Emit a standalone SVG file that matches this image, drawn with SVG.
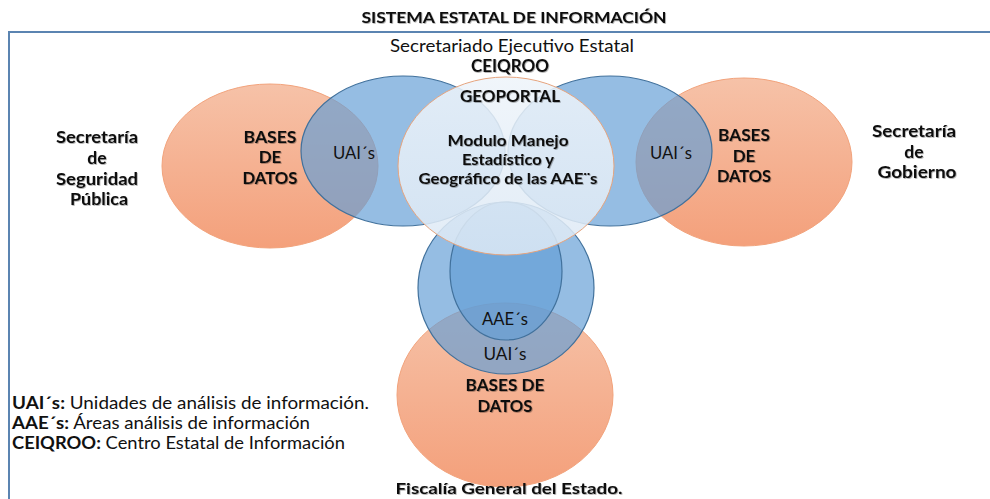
<svg xmlns="http://www.w3.org/2000/svg" width="990" height="499" viewBox="0 0 990 499">
<style>
text{font-family:Lato,"Open Sans","Liberation Sans",sans-serif;fill:#111;}
.b{font-weight:bold;}
.c{text-anchor:middle;}
.sh{filter:url(#shadow);}
.orange{fill:url(#og);stroke:#f2a37c;stroke-width:1;}
.blue{fill:#639ed6;fill-opacity:0.68;stroke:#41719c;stroke-width:1.2;}
.white{fill:url(#wg);fill-opacity:0.86;stroke:#e6a47e;stroke-width:1;}
</style>
<defs>
<linearGradient id="og" x1="0" y1="0" x2="0" y2="1">
<stop offset="0" stop-color="#f6c2a8"/>
<stop offset="1" stop-color="#f4a07b"/>
</linearGradient>
<linearGradient id="wg" x1="0" y1="0" x2="0" y2="1">
<stop offset="0" stop-color="#eef4fa"/>
<stop offset="1" stop-color="#dde9f5"/>
</linearGradient>
<filter id="shadow" x="-10%" y="-30%" width="120%" height="160%">
<feDropShadow dx="0.8" dy="0.8" stdDeviation="0.7" flood-color="#000" flood-opacity="0.35"/>
</filter>
</defs>
<rect width="990" height="499" fill="#fff"/>
<text class="b c sh" x="514" y="23" font-size="16" textLength="305" lengthAdjust="spacingAndGlyphs">SISTEMA ESTATAL DE INFORMACIÓN</text>
<path d="M9,499 V32 H990" fill="none" stroke="#5b84b1" stroke-width="2"/>
<text class="c" x="512" y="52" font-size="16.5" textLength="244" lengthAdjust="spacingAndGlyphs">Secretariado Ejecutivo Estatal</text>
<text class="b c sh" x="510" y="72" font-size="16.5" textLength="78" lengthAdjust="spacingAndGlyphs">CEIQROO</text>
<g id="ssp-label">
<text class="b c sh" x="97" y="143" font-size="17.5" textLength="82" lengthAdjust="spacingAndGlyphs">Secretaría</text>
<text class="b c sh" x="97" y="164" font-size="17.5">de</text>
<text class="b c sh" x="97" y="185" font-size="17.5" textLength="82" lengthAdjust="spacingAndGlyphs">Seguridad</text>
<text class="b c sh" x="99" y="205" font-size="17.5" textLength="58" lengthAdjust="spacingAndGlyphs">Pública</text>
</g>
<g id="sg-label">
<text class="b c sh" x="914" y="137" font-size="17.5" textLength="84" lengthAdjust="spacingAndGlyphs">Secretaría</text>
<text class="b c sh" x="914" y="158" font-size="17.5">de</text>
<text class="b c sh" x="917" y="178" font-size="17.5" textLength="79" lengthAdjust="spacingAndGlyphs">Gobierno</text>
</g>
<g id="bd-left"><ellipse class="orange" cx="270" cy="166" rx="108" ry="82"/></g>
<g id="bd-right"><ellipse class="orange" cx="744" cy="162" rx="108" ry="84"/></g>
<g id="bd-bottom"><ellipse class="orange" cx="505" cy="395" rx="108" ry="92"/></g>
<g id="uai-left"><ellipse class="blue" cx="403" cy="151" rx="102" ry="75"/></g>
<g id="uai-right"><ellipse class="blue" cx="610" cy="151" rx="102" ry="75"/></g>
<g id="uai-bottom"><ellipse class="blue" cx="506" cy="288" rx="88" ry="86"/></g>
<g id="aae"><ellipse class="blue" cx="506" cy="271" rx="56" ry="69"/></g>
<g id="geoportal"><ellipse class="white" cx="506" cy="166" rx="108" ry="89"/></g>
<g id="labels-left">
<text class="b c sh" x="270" y="143" font-size="17" textLength="53" lengthAdjust="spacingAndGlyphs">BASES</text>
<text class="b c sh" x="270" y="163" font-size="17">DE</text>
<text class="b c sh" x="270" y="184" font-size="17" textLength="55" lengthAdjust="spacingAndGlyphs">DATOS</text>
<text class="c" x="354" y="159" font-size="17" textLength="42" lengthAdjust="spacingAndGlyphs">UAI´s</text>
</g>
<g id="labels-right">
<text class="b c sh" x="744" y="141" font-size="17" textLength="52" lengthAdjust="spacingAndGlyphs">BASES</text>
<text class="b c sh" x="744" y="162" font-size="17">DE</text>
<text class="b c sh" x="744" y="182" font-size="17" textLength="54" lengthAdjust="spacingAndGlyphs">DATOS</text>
<text class="c" x="671" y="159" font-size="17" textLength="42" lengthAdjust="spacingAndGlyphs">UAI´s</text>
</g>
<g id="labels-center">
<text class="b c sh" x="510" y="102" font-size="17" textLength="100" lengthAdjust="spacingAndGlyphs">GEOPORTAL</text>
<text class="b c sh" x="508" y="146" font-size="15" textLength="121" lengthAdjust="spacingAndGlyphs">Modulo Manejo</text>
<text class="b c sh" x="508" y="165" font-size="15" textLength="92" lengthAdjust="spacingAndGlyphs">Estadístico y</text>
<text class="b c sh" x="508" y="184" font-size="15" textLength="179" lengthAdjust="spacingAndGlyphs">Geográfico de las AAE¨s</text>
</g>
<g id="labels-bottom">
<text class="c" x="505" y="325" font-size="17" textLength="46" lengthAdjust="spacingAndGlyphs">AAE´s</text>
<text class="c" x="505" y="360" font-size="17" textLength="43" lengthAdjust="spacingAndGlyphs">UAI´s</text>
<text class="b c sh" x="505" y="391" font-size="17" textLength="79" lengthAdjust="spacingAndGlyphs">BASES DE</text>
<text class="b c sh" x="505" y="412" font-size="17" textLength="55" lengthAdjust="spacingAndGlyphs">DATOS</text>
<text class="b c sh" x="509" y="494" font-size="16" textLength="227" lengthAdjust="spacingAndGlyphs">Fiscalía General del Estado.</text>
</g>
<g id="legend">
<text x="12" y="409" font-size="16.5" textLength="357" lengthAdjust="spacingAndGlyphs"><tspan class="b">UAI´s:</tspan> Unidades de análisis de información.</text>
<text x="12" y="429" font-size="16.5" textLength="298" lengthAdjust="spacingAndGlyphs"><tspan class="b">AAE´s:</tspan> Áreas análisis de información</text>
<text x="12" y="449" font-size="16.5" textLength="333" lengthAdjust="spacingAndGlyphs"><tspan class="b">CEIQROO:</tspan> Centro Estatal de Información</text>
</g>
</svg>
